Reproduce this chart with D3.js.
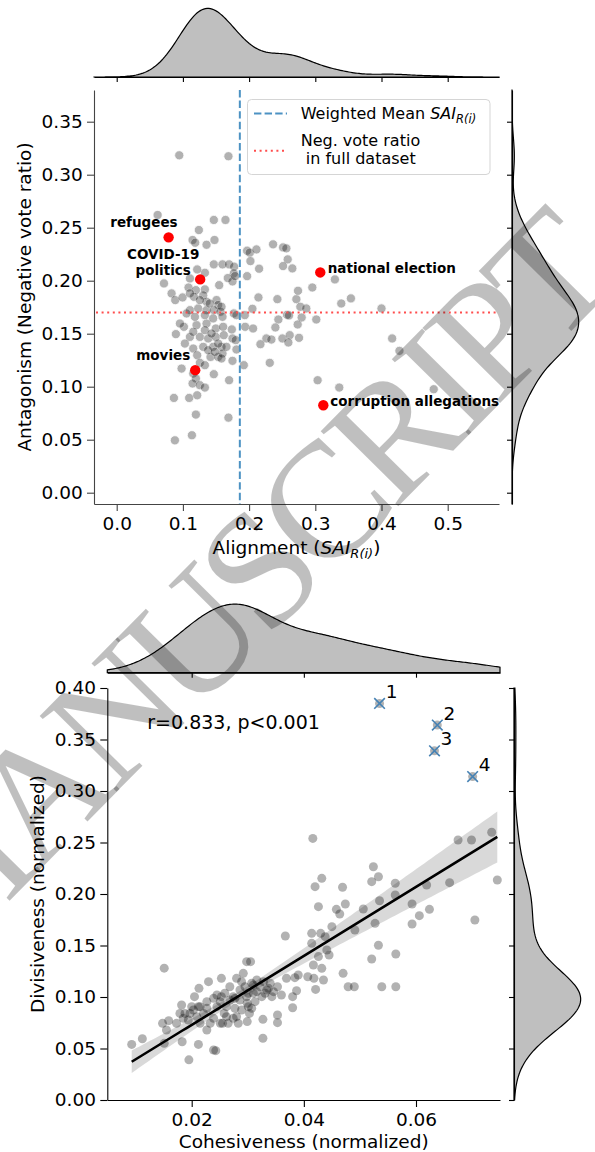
<!DOCTYPE html>
<html>
<head>
<meta charset="utf-8">
<script src="https://cdn.jsdelivr.net/npm/d3@7"></script>
<style>
  body { margin: 0; background: #fff; }
  svg { font-family: "DejaVu Sans", sans-serif; }
</style>
</head>
<body>
<div id="chart"></div>
<script>
// ---- top panel: alignment vs antagonism, one dot per topic ----
var topAlign = [0.0945,0.1688,0.0618,0.1467,0.1643,0.1241,0.1146,0.1186,0.1357,0.1477,
  0.197,0.201,0.2111,0.2362,0.2513,0.2563,0.2583,0.202,0.2513,0.2653,
  0.2151,0.197,0.1467,0.1598,0.1698,0.1774,0.1332,0.1216,0.1769,0.1678,
  0.1749,0.1789,0.0714,0.1106,0.1085,0.1196,0.1332,0.1548,0.0829,0.0884,
  0.0995,0.1166,0.1307,0.1357,0.1508,0.1533,0.1106,0.1231,0.1357,0.1467,
  0.1568,0.1598,0.1769,0.1809,0.1935,0.205,0.2141,0.2427,0.2714,0.2739,
  0.2774,0.2864,0.2955,0.3296,0.3392,0.3538,0.4,0.2573,0.2442,0.2603,
  0.2794,0.3015,0.2734,0.1015,0.1206,0.1357,0.1497,0.1608,0.1739,0.194,
  0.206,0.2397,0.0894,0.1106,0.1256,0.1382,0.1497,0.1618,0.1749,0.1799,
  0.2261,0.2337,0.2503,0.2613,0.2754,0.2593,0.2171,0.1156,0.1307,0.1457,
  0.1583,0.1809,0.1216,0.1417,0.1533,0.1598,0.1256,0.1749,0.192,0.2312,
  0.098,0.1156,0.1196,0.1467,0.1698,0.1146,0.1256,0.1332,0.0864,0.1095,
  0.1216,0.1196,0.1688,0.0879,0.1136,0.4161,0.4271,0.3035,0.3362,0.4789,
  0.1106,0.1256,0.1407,0.1055,0.1181,0.1332,0.1457,0.1583,0.1156,0.1332,
  0.1432,0.1533,0.1382,0.1482,0.1583,0.1658,0.0955,0.103,0.1332];
var topAntag = [0.3183,0.3174,0.262,0.2573,0.2573,0.2478,0.2384,0.2358,0.2339,0.2384,
  0.2283,0.2264,0.2295,0.2343,0.2314,0.2305,0.2201,0.2185,0.2138,0.2116,
  0.2113,0.2043,0.2154,0.2154,0.2154,0.2132,0.2075,0.2106,0.2069,0.2025,
  0.1993,0.2043,0.1974,0.2021,0.1936,0.1911,0.1918,0.1958,0.188,0.1817,
  0.1842,0.1848,0.1861,0.1801,0.1817,0.177,0.1722,0.1738,0.1722,0.1722,
  0.1707,0.1659,0.1691,0.1675,0.1675,0.1735,0.1842,0.1826,0.1826,0.1905,
  0.1754,0.1738,0.1936,0.2012,0.1785,0.1833,0.1738,0.1678,0.1634,0.1672,
  0.1653,0.1634,0.1587,0.1565,0.1581,0.1596,0.1549,0.1565,0.154,0.1565,
  0.1549,0.1559,0.1496,0.147,0.147,0.1455,0.147,0.1486,0.1455,0.1439,
  0.1455,0.1445,0.1455,0.1486,0.1461,0.1417,0.1401,0.136,0.1376,0.1376,
  0.1376,0.1351,0.1297,0.1281,0.1281,0.1313,0.1225,0.1244,0.1203,0.1225,
  0.1171,0.1124,0.1077,0.1118,0.1061,0.103,0.1014,0.0992,0.0894,0.0894,
  0.0919,0.0737,0.0708,0.0494,0.0542,0.1455,0.1338,0.1061,0.0992,0.0976,
  0.188,0.1817,0.1785,0.1691,0.1659,0.1675,0.1644,0.1754,0.1518,0.1533,
  0.1502,0.1407,0.1344,0.1329,0.1266,0.1376,0.1596,0.1407,0.1203];

// highlighted topics
var topics = ["refugees", "COVID-19\npolitics", "movies", "national election", "corruption allegations"];
var topicAlign = [0.0784, 0.1261, 0.1186, 0.3075, 0.3121];
var topicAntag = [0.2409, 0.2012, 0.1156, 0.2078, 0.0825];

var weightedMeanSAI = 0.186;
var negVoteRatio = 0.170;

var topXTicks = [0.0, 0.1, 0.2, 0.3, 0.4, 0.5];
var topYTicks = [0.00, 0.05, 0.10, 0.15, 0.20, 0.25, 0.30, 0.35];

// ---- bottom panel: cohesiveness vs divisiveness ----
var cohes = [0.0093,0.0112,0.0151,0.0195,0.0212,0.0183,0.0151,0.0148,0.0159,0.0155,
  0.0179,0.0182,0.0185,0.0197,0.0203,0.0209,0.0212,0.0205,0.0213,0.0227,
  0.0221,0.0227,0.0239,0.0243,0.023,0.0239,0.0245,0.0253,0.0253,0.0255,
  0.0258,0.0262,0.0265,0.0268,0.0274,0.0277,0.028,0.0283,0.0286,0.0292,
  0.0295,0.0298,0.0299,0.0303,0.0299,0.0305,0.0298,0.0307,0.031,0.0313,
  0.0316,0.0322,0.0325,0.0327,0.0327,0.0334,0.034,0.0346,0.0353,0.0353,
  0.0353,0.036,0.0367,0.0369,0.038,0.038,0.0384,0.0387,0.039,0.0407,
  0.0414,0.0414,0.0417,0.0418,0.0421,0.042,0.0426,0.0426,0.043,0.0432,
  0.0432,0.0435,0.0438,0.0441,0.0445,0.045,0.0458,0.0464,0.0469,0.047,
  0.0474,0.0479,0.049,0.0491,0.0506,0.0521,0.0521,0.0524,0.0527,0.0533,
  0.0535,0.0533,0.0539,0.0563,0.0563,0.0564,0.0564,0.0593,0.0593,0.0606,
  0.0619,0.0624,0.066,0.0705,0.0745,0.0173,0.0188,0.0194,0.0215,0.0233,
  0.0251,0.0268,0.0277,0.0289,0.0301,0.0307,0.0289,0.0274,0.0262,0.0251,
  0.0215,0.02,0.0227,0.0239,0.0316,0.0331,0.0337,0.0343,0.0301,0.0286,
  0.0259,0.0245,0.028,0.031,0.0328,0.0416,0.0675,0.0699,0.0735];
var divis = [0.054,0.0595,0.128,0.039,0.054,0.0566,0.055,0.0744,0.077,0.068,
  0.0841,0.0922,0.0793,0.0841,0.0874,0.0809,0.0906,0.1003,0.1084,0.068,
  0.0841,0.089,0.0485,0.0479,0.1149,0.0793,0.0906,0.1181,0.1003,0.0744,
  0.0841,0.0906,0.0744,0.11,0.1003,0.089,0.0809,0.0744,0.1068,0.123,
  0.11,0.1003,0.0939,0.0841,0.0761,0.1343,0.1343,0.1133,0.1036,0.0955,
  0.1165,0.11,0.1003,0.0783,0.0599,0.1068,0.1133,0.1052,0.11,0.0825,
  0.0751,0.1019,0.1592,0.1181,0.0896,0.1003,0.1188,0.1061,0.1214,0.1197,
  0.1618,0.1521,0.1311,0.1181,0.1074,0.2071,0.1877,0.1392,0.1618,0.2152,
  0.1278,0.1165,0.1586,0.1456,0.1408,0.1683,0.1851,0.1806,0.2065,0.123,
  0.1903,0.11,0.11,0.165,0.1854,0.1369,0.212,0.2265,0.1715,0.2168,
  0.1935,0.1502,0.11,0.2104,0.199,0.1417,0.11,0.1903,0.1709,0.179,
  0.2087,0.1851,0.211,0.1748,0.2136,0.0744,0.0841,0.0777,0.0744,0.0744,
  0.0955,0.0971,0.0987,0.1149,0.0906,0.089,0.0874,0.0793,0.0809,0.0744,
  0.0906,0.0906,0.0955,0.0987,0.1052,0.1036,0.1084,0.1003,0.1036,0.0971,
  0.1036,0.1019,0.1181,0.1117,0.1149,0.254,0.2524,0.2524,0.2599];

// the four outliers (part of the data, also marked with a cross)
var outlierIds = ["1", "2", "3", "4"];
var outCohes = [0.0535, 0.0638, 0.0633, 0.0701];
var outDivis = [0.385, 0.364, 0.339, 0.314];

var corrText = "r=0.833, p<0.001";
var botXTicks = [0.02, 0.04, 0.06];
var botYTicks = [0.00, 0.05, 0.10, 0.15, 0.20, 0.25, 0.30, 0.35, 0.40];

/****************************/
/*          Helpers         */
/****************************/
var FONT = "DejaVu Sans";
var svg = d3.select("#chart").append("svg")
    .attr("width", 595)
    .attr("height", 1152);

// gaussian kde, scott bandwidth (like scipy / seaborn)
function kde(values, grid) {
  var n = values.length;
  var bw = d3.deviation(values) * Math.pow(n, -0.2);
  return grid.map(function(g) {
    var s = d3.sum(values, function(v) { var u = (g - v) / bw; return Math.exp(-0.5 * u * u); });
    return [g, s / (n * bw * Math.sqrt(2 * Math.PI))];
  });
}

function gridOf(scale) {
  var d = scale.domain();
  return d3.range(0, 241).map(function(i) { return d[0] + i * (d[1] - d[0]) / 240; });
}

function styleAxis(g, color, size) {
  g.attr("font-family", FONT).attr("font-size", size);
  g.select(".domain").attr("stroke", color).attr("stroke-width", 1.1);
  g.selectAll(".tick line").attr("stroke", color).attr("stroke-width", 1.1);
  g.selectAll(".tick text").attr("fill", "#000");
}

// top and right kde marginals of a joint plot
function marginals(x, y, xs, ys, topBase, rightLeft, xTicks, yTicks) {
  var kx = kde(xs, gridOf(x));
  var my = d3.scaleLinear().domain([0, d3.max(kx, function(d) { return d[1]; }) * 1.05])
      .range([topBase, topBase - 72]);
  svg.append("path").datum(kx)
      .attr("d", d3.area().x(function(d) { return x(d[0]); }).y0(topBase).y1(function(d) { return my(d[1]); }))
      .attr("fill", "#000").attr("fill-opacity", 0.25)
      .attr("stroke", "#000").attr("stroke-width", 1.2);
  svg.append("g").attr("transform", "translate(0," + topBase + ")")
      .call(d3.axisBottom(x).tickValues(xTicks).tickFormat("").tickSize(5).tickSizeOuter(0))
      .call(styleAxis, "#000", 10);

  var ky = kde(ys, gridOf(y));
  var mx = d3.scaleLinear().domain([0, d3.max(ky, function(d) { return d[1]; }) * 1.05])
      .range([rightLeft, rightLeft + 70]);
  svg.append("path").datum(ky)
      .attr("d", d3.area().y(function(d) { return y(d[0]); }).x0(rightLeft).x1(function(d) { return mx(d[1]); }))
      .attr("fill", "#000").attr("fill-opacity", 0.25)
      .attr("stroke", "#000").attr("stroke-width", 1.2);
  svg.append("g").attr("transform", "translate(" + rightLeft + ",0)")
      .call(d3.axisLeft(y).tickValues(yTicks).tickFormat("").tickSize(5).tickSizeOuter(0))
      .call(styleAxis, "#000", 10);
}

/****************************/
/*         Top panel        */
/****************************/
var x1 = d3.scaleLinear().domain([-0.0343, 0.5775]).range([94, 499]);
var y1 = d3.scaleLinear().domain([-0.01066, 0.3799]).range([504, 90]);

marginals(x1, y1, topAlign.concat(topicAlign), topAntag.concat(topicAntag), 77, 512, topXTicks, topYTicks);

svg.append("g").attr("transform", "translate(0,504)")
    .call(d3.axisBottom(x1).tickValues(topXTicks).tickFormat(d3.format(".1f"))
      .tickSize(7).tickPadding(5.4).tickSizeOuter(0))
    .call(styleAxis, "#444", 18.5);
svg.append("g").attr("transform", "translate(94,0)")
    .call(d3.axisLeft(y1).tickValues(topYTicks).tickFormat(d3.format(".2f"))
      .tickSize(7).tickPadding(4.3).tickSizeOuter(0))
    .call(styleAxis, "#444", 18.5);

// grey topic dots, white edge as in seaborn
svg.append("g").selectAll("circle")
    .data(d3.range(topAlign.length))
    .enter().append("circle")
    .attr("cx", function(i) { return x1(topAlign[i]); })
    .attr("cy", function(i) { return y1(topAntag[i]); })
    .attr("r", 4.6)
    .attr("fill", "#000")
    .attr("stroke", "#fff")
    .attr("stroke-width", 0.8)
    .attr("opacity", 0.3);

svg.append("line")
    .attr("x1", x1(weightedMeanSAI)).attr("x2", x1(weightedMeanSAI))
    .attr("y1", 90).attr("y2", 504)
    .attr("stroke", "#4c92c3").attr("stroke-width", 2).attr("stroke-dasharray", "7.4,3.2");
svg.append("line")
    .attr("x1", 96).attr("x2", 497)
    .attr("y1", y1(negVoteRatio)).attr("y2", y1(negVoteRatio))
    .attr("stroke", "#ff4d4d").attr("stroke-width", 2).attr("stroke-dasharray", "2,3.6");

// red highlighted topics + their labels
var labelPos = [
  {anchor: "end", dx: 9, dy: [-15]},
  {anchor: "middle", dx: -37, dy: [-25, -9]},
  {anchor: "end", dx: -5, dy: [-15]},
  {anchor: "start", dx: 7.5, dy: [-4]},
  {anchor: "start", dx: 7, dy: [-4]}
];
topics.forEach(function(t, i) {
  var cx = x1(topicAlign[i]), cy = y1(topicAntag[i]);
  svg.append("circle").attr("cx", cx).attr("cy", cy).attr("r", 5.2).attr("fill", "red");
  t.split("\n").forEach(function(line, j) {
    svg.append("text")
        .attr("x", cx + labelPos[i].dx)
        .attr("y", cy + labelPos[i].dy[j])
        .attr("dy", "0.36em")
        .attr("text-anchor", labelPos[i].anchor)
        .attr("font-family", FONT).attr("font-weight", "bold").attr("font-size", 13.5)
        .text(line);
  });
});

// legend
var leg = svg.append("g").attr("font-family", FONT).attr("font-size", 16);
leg.append("rect").attr("x", 247.5).attr("y", 99.5).attr("width", 242.5).attr("height", 75)
    .attr("rx", 4).attr("fill", "#fff").attr("fill-opacity", 0.8)
    .attr("stroke", "#d5d5d5").attr("stroke-width", 1);
leg.append("line").attr("x1", 254).attr("x2", 287).attr("y1", 113.5).attr("y2", 113.5)
    .attr("stroke", "#4c92c3").attr("stroke-width", 2).attr("stroke-dasharray", "7.4,3.2");
leg.append("line").attr("x1", 254).attr("x2", 287).attr("y1", 150.7).attr("y2", 150.7)
    .attr("stroke", "#ff4d4d").attr("stroke-width", 2).attr("stroke-dasharray", "2,3.6");
var l1 = leg.append("text").attr("x", 300.7).attr("y", 119.3);
l1.append("tspan").text("Weighted Mean ");
l1.append("tspan").attr("font-style", "italic").text("SAI");
l1.append("tspan").attr("font-style", "italic").attr("font-size", 11.5).attr("dy", 3.5).text("R(i)");
leg.append("text").attr("x", 300.7).attr("y", 146).text("Neg. vote ratio");
leg.append("text").attr("x", 300.7).attr("y", 164).attr("xml:space", "preserve")
    .style("white-space", "pre").text(" in full dataset");

// axis labels
var xl1 = svg.append("text").attr("x", 296.5).attr("y", 553.5)
    .attr("text-anchor", "middle").attr("font-family", FONT).attr("font-size", 18.5);
xl1.append("tspan").text("Alignment (");
xl1.append("tspan").attr("font-style", "italic").text("SAI");
xl1.append("tspan").attr("font-style", "italic").attr("font-size", 13).attr("dy", 4).text("R(i)");
xl1.append("tspan").attr("dy", -4).text(")");
svg.append("text")
    .attr("transform", "translate(30.5,297) rotate(-90)")
    .attr("text-anchor", "middle").attr("font-family", FONT).attr("font-size", 18.5)
    .text("Antagonism (Negative vote ratio)");

/****************************/
/*        Bottom panel      */
/****************************/
var x2 = d3.scaleLinear().domain([0.00495, 0.07498]).range([107.3, 500]);
var y2 = d3.scaleLinear().domain([0, 0.40]).range([1100, 688]);

// all topics, outliers included
var allCohes = cohes.concat(outCohes);
var allDivis = divis.concat(outDivis);

marginals(x2, y2, allCohes, allDivis, 672.7, 514, botXTicks, botYTicks);

svg.append("g").attr("transform", "translate(0,1100)")
    .call(d3.axisBottom(x2).tickValues(botXTicks).tickFormat(d3.format(".2f"))
      .tickSize(7).tickPadding(5.4).tickSizeOuter(0))
    .call(styleAxis, "#000", 18.5);
svg.append("g").attr("transform", "translate(107.3,0)")
    .call(d3.axisLeft(y2).tickValues(botYTicks).tickFormat(d3.format(".2f"))
      .tickSize(7).tickPadding(4.3).tickSizeOuter(0))
    .call(styleAxis, "#000", 18.5);

svg.append("g").selectAll("circle")
    .data(d3.range(allCohes.length))
    .enter().append("circle")
    .attr("cx", function(i) { return x2(allCohes[i]); })
    .attr("cy", function(i) { return y2(allDivis[i]); })
    .attr("r", 4.5)
    .attr("fill", "#000")
    .attr("opacity", 0.3);

// OLS fit with a robust (sandwich) 95% band
var n = allCohes.length;
var mx = d3.mean(allCohes), myv = d3.mean(allDivis);
var sxx = d3.sum(allCohes, function(v) { return (v - mx) * (v - mx); });
var sxy = d3.sum(d3.range(n), function(i) { return (allCohes[i] - mx) * (allDivis[i] - myv); });
var slope = sxy / sxx, icpt = myv - slope * mx;
var v11 = 0, v12 = 0, v22 = 0;
for (var i = 0; i < n; i++) {
  var e = allDivis[i] - (icpt + slope * allCohes[i]), d = allCohes[i] - mx;
  v11 += e * e; v12 += e * e * d; v22 += e * e * d * d;
}
v11 /= n * n; v12 /= n * sxx; v22 /= sxx * sxx;
var xExt = d3.extent(allCohes);
var fit = d3.range(0, 101).map(function(k) {
  var xv = xExt[0] + k * (xExt[1] - xExt[0]) / 100, dd = xv - mx;
  var se = Math.sqrt(v11 + 2 * dd * v12 + dd * dd * v22);
  var yv = icpt + slope * xv;
  return {x: xv, y: yv, lo: yv - 1.96 * se, hi: yv + 1.96 * se};
});
svg.append("path").datum(fit)
    .attr("d", d3.area().x(function(d) { return x2(d.x); })
      .y0(function(d) { return y2(d.lo); }).y1(function(d) { return y2(d.hi); }))
    .attr("fill", "#000").attr("fill-opacity", 0.15);
svg.append("path").datum(fit)
    .attr("d", d3.line().x(function(d) { return x2(d.x); }).y(function(d) { return y2(d.y); }))
    .attr("fill", "none").attr("stroke", "#000").attr("stroke-width", 2.6);

// outliers: blue cross + number
outlierIds.forEach(function(id, i) {
  var cx = x2(outCohes[i]), cy = y2(outDivis[i]);
  svg.append("path")
      .attr("d", "M" + (cx - 5.3) + "," + (cy - 5.3) + "L" + (cx + 5.3) + "," + (cy + 5.3) +
                 "M" + (cx - 5.3) + "," + (cy + 5.3) + "L" + (cx + 5.3) + "," + (cy - 5.3))
      .attr("stroke", "#4682b4").attr("stroke-width", 1.6);
  svg.append("text").attr("x", cx + 12).attr("y", cy - 12).attr("dy", "0.36em")
      .attr("text-anchor", "middle").attr("font-family", FONT).attr("font-size", 18.5)
      .text(id);
});

svg.append("text").attr("x", 147.3).attr("y", 729)
    .attr("font-family", FONT).attr("font-size", 19).text(corrText);

svg.append("text").attr("x", 303.7).attr("y", 1148)
    .attr("text-anchor", "middle").attr("font-family", FONT).attr("font-size", 18.5)
    .text("Cohesiveness (normalized)");
svg.append("text")
    .attr("transform", "translate(44,894) rotate(-90)")
    .attr("text-anchor", "middle").attr("font-family", FONT).attr("font-size", 18.5)
    .text("Divisiveness (normalized)");

// "accepted manuscript" watermark over everything
svg.append("text")
    .attr("transform", "translate(239,588) rotate(-45.4)")
    .attr("text-anchor", "middle").attr("dy", "0.34em")
    .attr("letter-spacing", -10)
    .attr("font-family", "Liberation Serif").attr("font-size", 165)
    .attr("fill", "#000").attr("fill-opacity", 0.25)
    .text("MANUSCRIPT");
</script>
</body>
</html>
